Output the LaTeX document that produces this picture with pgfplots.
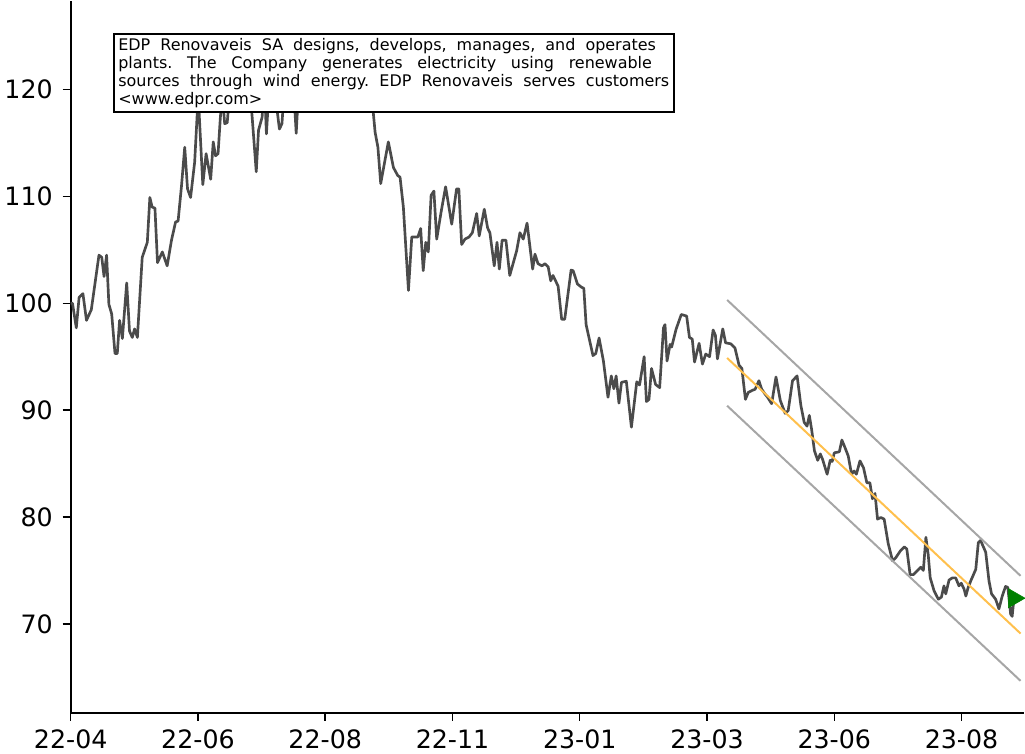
\documentclass[border=0pt]{standalone}
\usepackage{fontspec}
\setmainfont{DejaVu Sans}
\usepackage{pgfplots}
\pgfplotsset{compat=1.18}
\definecolor{lineg}{RGB}{75,75,75}
\definecolor{chang}{RGB}{166,166,166}
\definecolor{trendo}{RGB}{255,192,77}
\definecolor{mkgreen}{RGB}{0,128,0}
\frenchspacing
\begin{document}
\begin{tikzpicture}
\begin{axis}[
  scale only axis, width=716.25pt, height=535pt,
  xmin=0, xmax=374.5, ymin=61.67, ymax=128.3,
  axis x line*=bottom, axis y line*=left,
  axis line style={line width=1.3pt, black},
  xtick={0,50,100,150,200,250,300,350},
  xticklabels={22-04,22-06,22-08,22-11,23-01,23-03,23-06,23-08},
  ytick={70,80,90,100,110,120},
  tick align=outside, major tick length=6pt,
  every tick/.style={black, line width=1.1pt},
  tick label style={font=\fontsize{19}{20}\selectfont},
  yticklabel style={xshift=-4pt},
  xticklabel style={yshift=-3.5pt},
  /pgf/number format/assume math mode=true,
  clip=false,
]
\addplot[lineg, line width=2pt, line join=round] table {
x y
0 100.0
0.7 100.0
2.2 97.7
3.3 100.55
4.8 100.9
6.2 98.4
8.1 99.4
11.1 104.5
12.2 104.3
13.1 102.5
14.1 104.5
15.0 99.9
16.1 99.0
17.4 95.3
18.3 95.3
19.2 98.4
20.3 96.7
22.0 101.9
23.1 97.4
24.2 96.8
25.1 97.6
26.2 96.8
28.1 104.3
30.1 105.7
31.1 109.9
32.0 109.0
33.1 108.9
34.1 103.8
36.0 104.8
37.9 103.5
39.6 105.9
41.2 107.6
42.2 107.7
43.5 110.9
44.8 114.6
45.9 110.7
47.1 109.9
48.7 113.2
50.1 119.5
51.9 111.1
53.2 114.0
55.0 111.6
56.0 115.1
56.9 113.8
57.9 114.0
58.8 117.4
59.6 119.5
60.5 116.8
61.5 116.9
62.7 120.5
65.1 122.0
67.5 121.0
69.4 123.0
71.3 117.4
72.9 112.3
73.8 116.2
75.2 117.4
76.1 120.5
76.9 115.85
77.8 119.5
79.6 121.0
82.0 116.3
83.0 116.8
83.9 120.0
85.9 122.0
87.5 120.5
88.6 115.9
89.4 119.5
91.8 123.0
94.1 121.5
96.5 124.5
98.8 123.0
101.2 125.0
103.5 123.5
105.9 124.5
108.2 122.5
110.6 123.5
112.9 121.5
115.3 122.5
117.6 120.0
118.9 117.8
119.6 116.0
120.7 114.6
121.8 111.2
124.8 115.1
126.8 112.7
128.5 111.95
129.4 111.8
130.7 109.0
132.7 101.2
134.0 106.2
136.4 106.2
137.5 107.0
138.5 103.05
139.5 105.7
140.5 104.8
141.6 110.1
142.7 110.5
143.8 106.0
145.5 108.5
147.3 110.9
149.7 107.4
151.6 110.7
152.5 110.7
153.6 105.5
154.9 106.0
156.5 106.2
157.8 106.6
159.5 108.4
160.5 106.3
162.5 108.8
163.8 107.05
164.7 106.6
166.4 103.5
167.5 105.7
168.4 103.2
169.5 105.9
171.0 105.9
172.5 102.6
175.2 104.9
176.5 106.6
177.8 106.0
179.3 107.5
181.5 103.2
182.4 104.6
183.6 103.7
185.2 103.5
186.3 103.7
187.6 103.4
188.6 102.1
189.5 102.6
191.5 101.6
192.9 98.5
194.1 98.5
196.6 103.1
197.4 103.05
199.1 101.8
200.7 101.5
201.6 101.4
202.5 98.0
205.2 95.1
206.3 95.3
207.6 96.75
209.3 94.6
211.1 91.2
212.4 93.2
213.4 92.0
214.3 93.2
215.4 90.65
216.4 92.6
218.3 92.7
220.3 88.4
222.4 92.65
223.5 92.35
225.3 95.0
226.2 90.8
227.2 91.0
228.2 93.9
229.8 92.4
231.4 92.1
232.9 97.7
233.5 98.0
234.3 94.6
235.5 96.15
236.1 95.9
237.9 97.6
239.9 98.95
242.0 98.8
243.1 96.8
244.2 96.65
245.1 94.5
246.9 96.25
248.2 94.3
249.5 95.25
251.0 95.0
252.4 97.5
253.3 97.0
254.1 94.8
256.2 97.6
257.3 96.3
259.4 96.2
261.0 95.8
262.6 94.2
263.7 93.9
265.1 91.0
266.2 91.65
267.8 91.85
268.9 91.95
270.4 92.75
271.5 91.95
272.8 91.5
273.8 91.2
275.4 90.6
277.1 93.1
278.8 90.9
280.7 89.7
281.9 89.95
283.6 92.75
285.4 93.2
286.9 90.4
288.2 88.85
289.3 88.5
290.2 89.5
291.1 88.2
292.2 86.2
293.5 85.3
294.5 85.9
295.4 85.4
297.2 84.0
298.4 85.3
299.2 85.2
300.0 86.0
302.0 86.1
303.0 87.2
304.2 86.5
305.5 85.7
306.8 84.0
307.8 84.3
308.7 84.0
310.1 85.25
311.5 84.6
312.8 83.2
314.0 83.2
315.0 81.7
316.0 82.2
317.0 79.8
318.3 79.95
319.6 79.8
321.2 77.5
322.9 75.9
324.2 76.2
325.9 76.8
327.5 77.2
328.5 77.0
329.8 74.6
331.1 74.6
332.7 75.0
334.0 75.3
335.0 75.0
336.0 78.1
336.9 76.5
337.7 74.3
339.2 73.1
340.9 72.3
342.1 72.5
343.1 73.55
343.8 72.8
345.1 74.1
346.4 74.3
347.7 74.3
349.0 73.55
349.9 73.8
351.0 73.25
351.7 72.6
352.6 73.4
353.6 74.0
355.6 75.1
356.6 77.6
357.5 77.8
359.5 76.7
360.8 74.0
361.8 72.8
363.4 72.3
364.7 71.4
366.0 72.6
367.3 73.5
368.2 73.4
369.3 70.9
369.9 70.7
370.6 72.4
};
\addplot[chang, line width=1.5pt] coordinates {(257.9,100.31) (373.2,74.49)};
\addplot[chang, line width=1.5pt] coordinates {(257.9,90.41) (373.2,64.66)};
\addplot[trendo, line width=1.5pt] coordinates {(257.9,94.88) (373.2,69.09)};
\addplot[only marks, mark=triangle*, mark size=8.3pt, mark options={rotate=-90, fill=mkgreen, draw=mkgreen}] coordinates {(370.6,72.4)};
\node[draw=black, fill=white, line width=1.5pt, anchor=north west, inner xsep=3.5pt, inner ysep=3pt, align=left, font=\fontsize{12}{13.7}\selectfont] at (rel axis cs:0.044,0.955)
{\makebox[404pt][s]{EDP Renovaveis SA designs, develops, manages, and operates}\\
\makebox[401pt][s]{plants. The Company generates electricity using renewable}\\
\makebox[414pt][s]{sources through wind energy. EDP Renovaveis serves customers}\\
<www.edpr.com>};
\end{axis}
\end{tikzpicture}
\end{document}
